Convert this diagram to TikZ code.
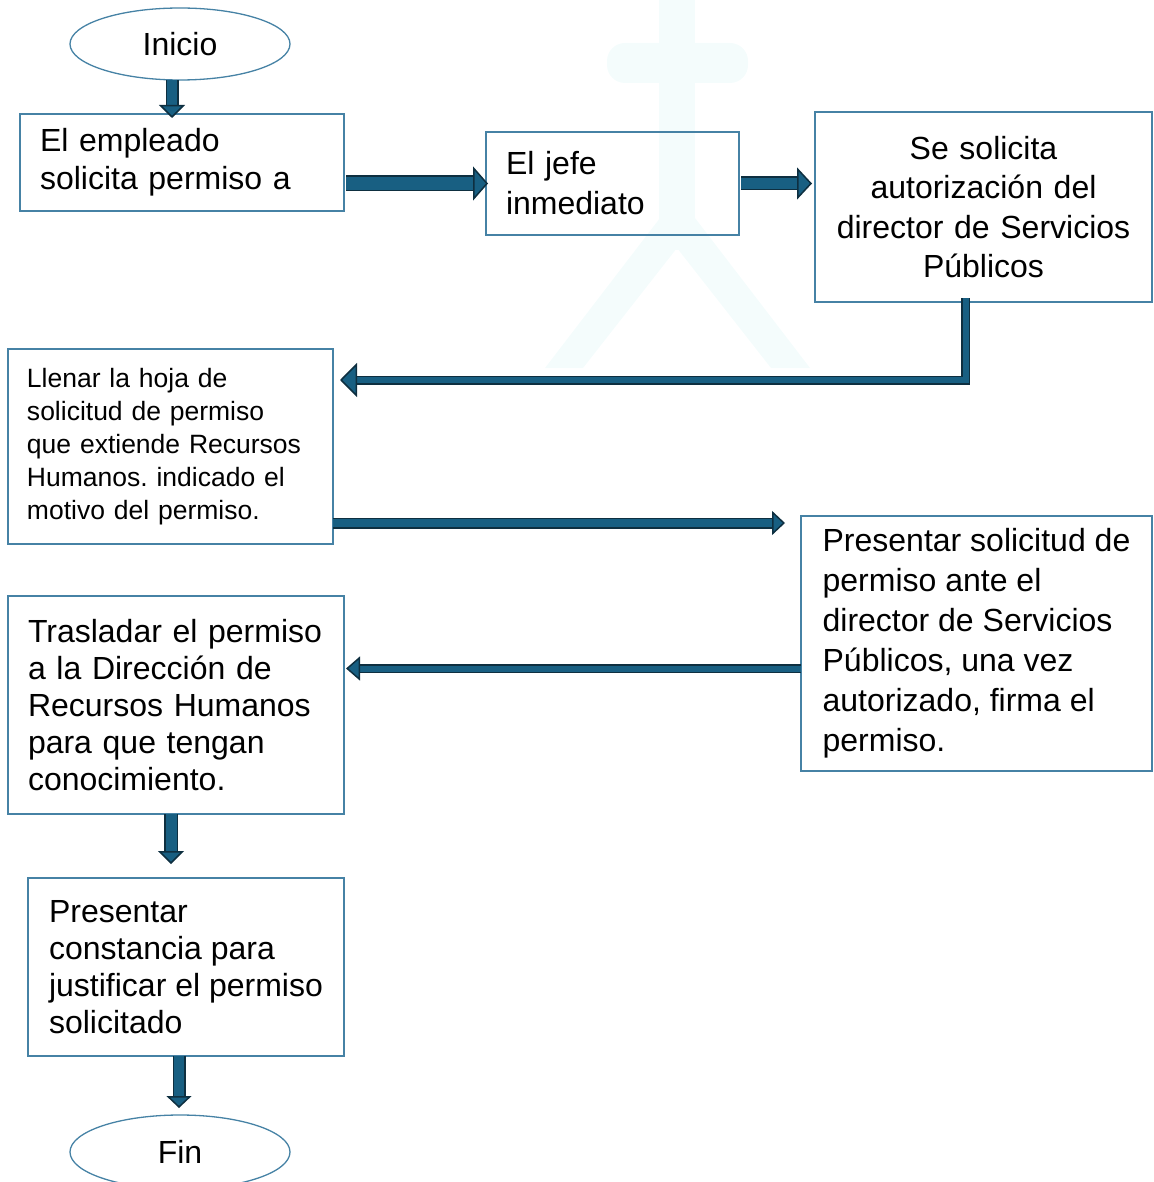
\documentclass[tikz,border=0pt]{standalone}
\usepackage{fontspec}
\setmainfont{Liberation Sans}
\usetikzlibrary{arrows.meta,positioning,shapes.geometric,calc}
\definecolor{borde}{RGB}{70,130,165}
\definecolor{flechaazul}{RGB}{24,95,130}
\definecolor{flechaoscura}{RGB}{14,47,64}
\definecolor{marca}{RGB}{244,252,252}
\frenchspacing

\begin{document}
\begin{tikzpicture}[x=1pt, y=-1pt,
    caja/.style={rectangle, draw=borde, line width=1.3pt, outer sep=0pt, inner xsep=20pt, anchor=north west, align=left, font=\fontsize{32}{38}\selectfont},
    ovalo/.style={ellipse, draw=borde, line width=1.3pt, outer sep=0pt, minimum width=220pt, minimum height=72pt, font=\fontsize{32}{38}\selectfont},
    flecha/.style n args={3}{draw=flechaoscura, line width=1.5pt, double=flechaazul, double distance=#1, -{Triangle[width=#2, length=#3, fill=flechaazul, line width=1.5pt]}}]
    \useasboundingbox (0,0) rectangle (1153,1182);

    % marca de agua
    \fill[marca, rounded corners=18pt] (607,43) rectangle (748,83);
    \fill[marca] (659,0) rectangle (695,250);
    \fill[marca] (545,368) -- (660,218) -- (695,218) -- (810,368) -- (771,368) -- (677,248) -- (583,368) -- cycle;

    \node [ovalo] (inicio) at (180,44) {Inicio};
    \node [caja, minimum width=324pt, minimum height=97pt, text width=284pt] (empleado) at (20,114) {El empleado\\ solicita permiso a};
    \node [caja, minimum width=253pt, minimum height=103pt, text width=213pt, font=\fontsize{32}{40}\selectfont] (jefe) at (486,132) {El jefe\\ inmediato};
    \node [caja, minimum width=337pt, minimum height=190pt, text width=297pt, align=center, font=\fontsize{32}{39.5}\selectfont] (director) at (815,112) {Se solicita\\ autorización del\\ director de Servicios\\ Públicos};
    \node [caja, minimum width=325pt, minimum height=195pt, text width=287pt, inner xsep=19pt, font=\fontsize{26.5}{33}\selectfont] (hoja) at (8,349) {Llenar la hoja de\\ solicitud de permiso\\ que extiende Recursos\\ Humanos. indicado el\\ motivo del permiso.};
    \node [caja, minimum width=351pt, minimum height=255pt, inner xsep=0pt, font=\fontsize{32}{40}\selectfont] (presentar) at (801,516) {Presentar solicitud de\\ permiso ante el\\ director de Servicios\\ Públicos, una vez\\ autorizado, firma el\\ permiso.};
    \node [caja, minimum width=336pt, minimum height=218pt, text width=296pt, font=\fontsize{32}{37}\selectfont] (trasladar) at (8,596) {Trasladar el permiso\\ a la Dirección de\\ Recursos Humanos\\ para que tengan\\ conocimiento.};
    \node [caja, minimum width=316pt, minimum height=178pt, inner xsep=0pt, font=\fontsize{32}{37}\selectfont] (constancia) at (28,878) {Presentar\\ constancia para\\ justificar el permiso\\ solicitado};
    \node [ovalo, minimum height=74pt] (fin) at (180,1152) {Fin};

    \coordinate (s4) at ([yshift=21pt]hoja.south east);
    \coordinate (s5) at ([yshift=-25pt]presentar.west);

    \draw [flecha={10pt}{26pt}{13pt}] ([xshift=-8pt]inicio.south) -- ([xshift=-8pt,yshift=-4pt]inicio.south |- empleado.north);
    \draw [flecha={13pt}{34pt}{15pt}] ([xshift=2pt]empleado.east |- jefe.west) -- ([xshift=2pt]jefe.west);
    \draw [flecha={11pt}{32pt}{15pt}] ([xshift=2pt]jefe.east) -- ([xshift=-3pt]director.west |- jefe.east);
    \draw [flecha={6pt}{34pt}{17pt}] ([xshift=-18pt,yshift=4pt]director.south) |- ([xshift=7pt,yshift=-31pt]hoja.north east);
    \draw [flecha={8pt}{24pt}{13pt}, shorten >=16pt] (s4) -- (presentar.west |- s4);
    \draw [flecha={6pt}{24pt}{14pt}] (s5) -- ([xshift=2pt]trasladar.east |- s5);
    \draw [flecha={11pt}{26pt}{13pt}, shorten >=14pt] ([xshift=-5pt]trasladar.south) -- ([xshift=-5pt]trasladar.south |- constancia.north);
    \draw [flecha={10pt}{25pt}{12pt}, shorten >=7pt] ([xshift=-7pt]constancia.south) -- ([xshift=-7pt]constancia.south |- fin.north);
\end{tikzpicture}
\end{document}
